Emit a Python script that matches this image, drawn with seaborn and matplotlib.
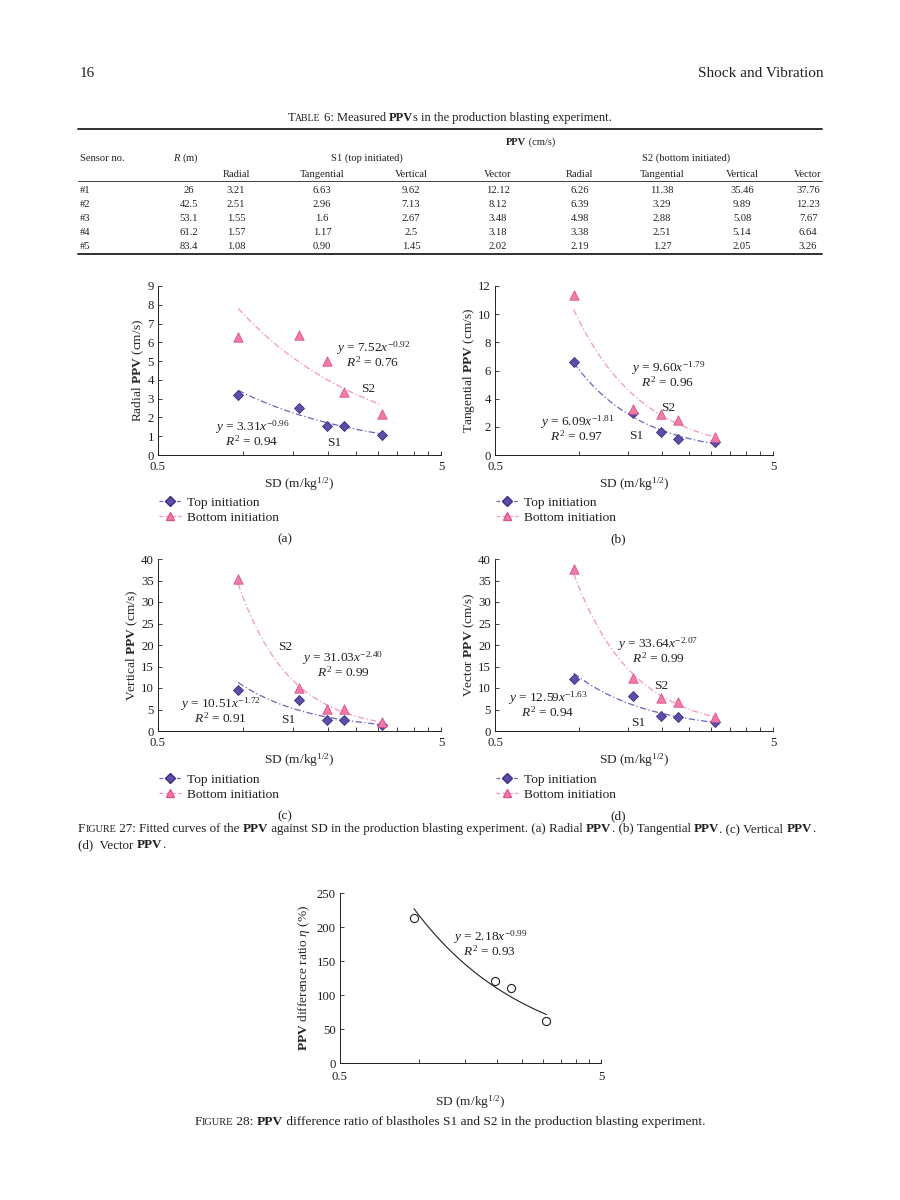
import numpy as np
import pandas as pd
import matplotlib
matplotlib.use("Agg")
import matplotlib.pyplot as plt
import seaborn as sns
from matplotlib.lines import Line2D

# ---- data read from the page ----
sensors = ["#1", "#2", "#3", "#4", "#5"]
distance_r = ["26", "42.5", "53.1", "61.2", "83.4"]
sd = [0.96, 1.57, 1.97, 2.27, 3.09]

s1_radial = [3.21, 2.51, 1.55, 1.57, 1.08]
s1_tangential = [6.63, 2.96, 1.6, 1.17, 0.90]
s1_vertical = [9.62, 7.13, 2.67, 2.5, 1.45]
s1_vector = [12.12, 8.12, 3.48, 3.18, 2.02]
s2_radial = [6.26, 6.39, 4.98, 3.38, 2.19]
s2_tangential = [11.38, 3.29, 2.88, 2.51, 1.27]
s2_vertical = [35.46, 9.89, 5.08, 5.14, 2.05]
s2_vector = [37.76, 12.23, 7.67, 6.64, 3.26]

# table text as printed (keeps trailing zeros)
table_cols = [
    ["3.21", "2.51", "1.55", "1.57", "1.08"],
    ["6.63", "2.96", "1.6", "1.17", "0.90"],
    ["9.62", "7.13", "2.67", "2.5", "1.45"],
    ["12.12", "8.12", "3.48", "3.18", "2.02"],
    ["6.26", "6.39", "4.98", "3.38", "2.19"],
    ["11.38", "3.29", "2.88", "2.51", "1.27"],
    ["35.46", "9.89", "5.08", "5.14", "2.05"],
    ["37.76", "12.23", "7.67", "6.64", "3.26"],
]
component_names = ["Radial", "Tangential", "Vertical", "Vector"]

# fitted power laws y = a x^b  (S1, S2) per panel
fit_s1 = [(3.31, -0.96, 0.94), (6.09, -1.81, 0.97), (10.51, -1.72, 0.91), (12.59, -1.63, 0.94)]
fit_s2 = [(7.52, -0.92, 0.76), (9.60, -1.79, 0.96), (31.03, -2.40, 0.99), (33.64, -2.07, 0.99)]

eta_sd = [0.96, 1.97, 2.27, 3.09]
eta_pct = [213, 121, 110, 62]
eta_fit = (2.18, -0.99, 0.93)

W, H = 900, 1200

sns.set_style("ticks")
plt.rcParams["font.family"] = ["Liberation Serif", "DejaVu Serif"]
plt.rcParams["mathtext.fontset"] = "custom"
plt.rcParams["mathtext.rm"] = "Liberation Serif"
plt.rcParams["mathtext.it"] = "Liberation Serif:italic"
plt.rcParams["mathtext.bf"] = "Liberation Serif:bold"
plt.rcParams["text.color"] = "#231f20"

fig = plt.figure(figsize=(9, 12), dpi=100)
renderer = fig.canvas.get_renderer()


def ftext(x, y, s, **kw):
    # place text using page pixel coordinates
    return fig.text(x / W, 1 - y / H, s, **kw)


def rich(x, y, pieces, size, ha="left"):
    """pieces: list of (text, weight, scale)"""
    arts = []
    cur = x
    for s, w, f in pieces:
        t = ftext(cur, y, s, fontsize=size * f, fontweight=w, va="baseline")
        cur += t.get_window_extent(renderer).width
        arts.append(t)
    if ha == "center":
        shift = (cur - x) / 2
        for t in arts:
            px, py = t.get_position()
            t.set_position((px - shift / W, py))
    return arts


def small_caps(word):
    return [(word[0], "normal", 1.0), (word[1:].upper(), "normal", 0.78)]


# ---- page header ----
ftext(80, 77, "16", fontsize=11, va="baseline")
ftext(824, 77, "Shock and Vibration", fontsize=11, va="baseline", ha="right")

# ---- table 6 ----
rich(450, 121, small_caps("Table") + [(" 6: Measured ", "normal", 1.0), ("PPV", "bold", 1.0),
     ("s in the production blasting experiment.", "normal", 1.0)], 9, ha="center")
fig.add_artist(Line2D([78 / W, 822 / W], [1 - 129 / H] * 2, color="#231f20", lw=1.3))
fig.add_artist(Line2D([78 / W, 822 / W], [1 - 181 / H] * 2, color="#231f20", lw=0.6))
fig.add_artist(Line2D([78 / W, 822 / W], [1 - 254 / H] * 2, color="#231f20", lw=1.3))
tsize = 7.6
rich(531, 145, [("PPV", "bold", 1.0), (" (cm/s)", "normal", 1.0)], tsize, ha="center")
ftext(80, 161, "Sensor no.", fontsize=tsize, va="baseline")
ftext(186, 161, "$R$ (m)", fontsize=tsize, va="baseline", ha="center")
ftext(367, 161, "S1 (top initiated)", fontsize=tsize, va="baseline", ha="center")
ftext(686, 161, "S2 (bottom initiated)", fontsize=tsize, va="baseline", ha="center")
col_x = [236, 322, 411, 498, 580, 662, 742, 808]
for i, cx in enumerate(col_x):
    ftext(cx, 177, component_names[i % 4], fontsize=tsize, va="baseline", ha="center")
row_y = [193, 207, 221, 235, 249]
for j, ry in enumerate(row_y):
    ftext(80, ry, sensors[j], fontsize=tsize, va="baseline")
    ftext(189, ry, distance_r[j], fontsize=tsize, va="baseline", ha="center")
    for i, cx in enumerate(col_x):
        ftext(cx, ry, table_cols[i][j], fontsize=tsize, va="baseline", ha="center")

# ---- figure 27 ----
c_s1_face, c_s1_edge, c_s1_line = "#5b4fa6", "#3a2f86", "#6a63c0"
c_s2_face, c_s2_edge, c_s2_line = "#f07bab", "#e0528c", "#f596bd"

panels = [
    dict(rect=(158, 286, 441, 455), s1=s1_radial, s2=s2_radial, name="Radial",
         ymax=9, ystep=1, label="(a)",
         eq2=(373, 352), s2lab=(368, 392), eq1=(252, 431), s1lab=(334, 446)),
    dict(rect=(495, 286, 773, 455), s1=s1_tangential, s2=s2_tangential, name="Tangential",
         ymax=12, ystep=2, label="(b)",
         eq2=(668, 372), s2lab=(668, 411), eq1=(577, 426), s1lab=(636, 439)),
    dict(rect=(158, 559, 441, 731), s1=s1_vertical, s2=s2_vertical, name="Vertical",
         ymax=40, ystep=5, label="(c)",
         eq2=(343, 662), s2lab=(285, 650), eq1=(220, 708), s1lab=(288, 723)),
    dict(rect=(495, 559, 773, 731), s1=s1_vector, s2=s2_vector, name="Vector",
         ymax=40, ystep=5, label="(d)",
         eq2=(658, 648), s2lab=(661, 689), eq1=(548, 702), s1lab=(638, 726)),
]

xt = [0.5 * k for k in range(1, 11)]
xtl = ["0.5"] + [""] * 8 + ["5"]
tick_fs = 9.2
lab_fs = 9.6
eq_fs = 9.6


def style_axes(ax, ymax, ystep, xpad=4):
    ax.set_xscale("log")
    ax.set_xlim(0.5, 5)
    ax.set_ylim(0, ymax)
    ax.set_xticks(xt)
    ax.set_xticklabels(xtl)
    ax.minorticks_off()
    ax.set_yticks(np.arange(0, ymax + 0.001, ystep))
    ax.tick_params(direction="in", length=3, width=0.6, labelsize=tick_fs, pad=3, colors="#231f20")
    ax.tick_params(axis="x", pad=xpad)
    for sp in ["top", "right"]:
        ax.spines[sp].set_visible(False)
    for sp in ["left", "bottom"]:
        ax.spines[sp].set_linewidth(0.7)
        ax.spines[sp].set_color("#231f20")
    ax.set_xlabel(r"SD (m/kg$^{1/2}$)", fontsize=lab_fs, labelpad=2)


def add_axes(rect):
    l, t, r, b = rect
    return fig.add_axes([l / W, 1 - b / H, (r - l) / W, (b - t) / H])


for k, p in enumerate(panels):
    ax = add_axes(p["rect"])
    df = pd.DataFrame({"SD": sd, "S1": p["s1"], "S2": p["s2"]})
    xs = np.geomspace(sd[0], sd[-1], 60)
    a1, b1, r1 = fit_s1[k]
    a2, b2, r2 = fit_s2[k]
    curve = pd.DataFrame({"SD": xs, "f1": a1 * xs ** b1, "f2": a2 * xs ** b2})
    sns.lineplot(data=curve, x="SD", y="f1", ax=ax, color=c_s1_line, lw=0.9,
                 linestyle=(0, (5, 2, 1, 2)))
    sns.lineplot(data=curve, x="SD", y="f2", ax=ax, color=c_s2_line, lw=0.9,
                 linestyle=(0, (5, 2, 1, 2)))
    sns.scatterplot(data=df, x="SD", y="S1", ax=ax, marker="D", s=26, color=c_s1_face,
                    edgecolor=c_s1_edge, linewidth=0.6, zorder=3)
    sns.scatterplot(data=df, x="SD", y="S2", ax=ax, marker="^", s=46, color=c_s2_face,
                    edgecolor=c_s2_edge, linewidth=0.6, zorder=3)
    style_axes(ax, p["ymax"], p["ystep"])
    ax.set_ylabel(p["name"] + r" $\mathbf{PPV}$ (cm/s)", fontsize=lab_fs, labelpad=1)

    ex, ey = p["eq2"]
    ftext(ex, ey, r"$y$ = %.2f$x^{%.2f}$" % (a2, b2), fontsize=eq_fs, ha="center", va="baseline")
    ftext(ex, ey + 15, r"$R^2$ = %.2f" % r2, fontsize=eq_fs, ha="center", va="baseline")
    ex, ey = p["eq1"]
    ftext(ex, ey, r"$y$ = %.2f$x^{%.2f}$" % (a1, b1), fontsize=eq_fs, ha="center", va="baseline")
    ftext(ex, ey + 15, r"$R^2$ = %.2f" % r1, fontsize=eq_fs, ha="center", va="baseline")
    ftext(*p["s2lab"], "S2", fontsize=eq_fs, ha="center", va="baseline")
    ftext(*p["s1lab"], "S1", fontsize=eq_fs, ha="center", va="baseline")

    handles = [
        Line2D([], [], color=c_s1_line, lw=0.9, linestyle=(0, (3, 1.5, 1, 1.5)), marker="D",
               markersize=5, markerfacecolor=c_s1_face, markeredgecolor=c_s1_edge),
        Line2D([], [], color=c_s2_line, lw=0.9, linestyle=(0, (3, 2)), marker="^",
               markersize=6, markerfacecolor=c_s2_face, markeredgecolor=c_s2_edge),
    ]
    l, t, r, b = p["rect"]
    ax.legend(handles, ["Top initiation", "Bottom initiation"], loc="upper left",
              bbox_to_anchor=((l - 4) / W, 1 - 491 / H - (0 if k < 2 else 277 / H)),
              bbox_transform=fig.transFigure, frameon=False, fontsize=9.6,
              handlelength=1.6, handletextpad=0.5, labelspacing=0.2, borderaxespad=0)
    lx = 285 if k % 2 == 0 else 618
    ly = 542 if k < 2 else 819
    ftext(lx, ly, p["label"], fontsize=9.6, ha="center", va="baseline")

# caption figure 27
rich(78, 832, small_caps("Figure") + [
    (" 27: Fitted curves of the ", "normal", 1.0), ("PPV", "bold", 1.0),
    (" against SD in the production blasting experiment. (a) Radial ", "normal", 1.0),
    ("PPV", "bold", 1.0), (". (b) Tangential ", "normal", 1.0), ("PPV", "bold", 1.0),
    (". (c) Vertical ", "normal", 1.0), ("PPV", "bold", 1.0), (".", "normal", 1.0)], 9.4)
rich(78, 848, [("(d)  Vector ", "normal", 1.0), ("PPV", "bold", 1.0), (".", "normal", 1.0)], 9.4)

# ---- figure 28 ----
ax = add_axes((340, 893, 601, 1063))
a, b, r2 = eta_fit
xs = np.geomspace(eta_sd[0], eta_sd[-1], 60)
curve = pd.DataFrame({"SD": xs, "eta": a * xs ** b * 100})
sns.lineplot(data=curve, x="SD", y="eta", ax=ax, color="#231f20", lw=0.8)
sns.scatterplot(x=eta_sd, y=eta_pct, ax=ax, marker="o", s=34, facecolor="white",
                edgecolor="#231f20", linewidth=0.8, zorder=3)
style_axes(ax, 250, 50, xpad=6)
ax.xaxis.labelpad = 7
ax.set_ylabel(r"$\mathbf{PPV}$ difference ratio $\eta$ (%)", fontsize=lab_fs, labelpad=3)
ftext(490, 941, r"$y$ = 2.18$x^{-0.99}$", fontsize=eq_fs, ha="center", va="baseline")
ftext(490, 956, r"$R^2$ = 0.93", fontsize=eq_fs, ha="center", va="baseline")

rich(450, 1125, small_caps("Figure") + [(" 28: ", "normal", 1.0), ("PPV", "bold", 1.0),
     (" difference ratio of blastholes S1 and S2 in the production blasting experiment.",
      "normal", 1.0)], 9.6, ha="center")

fig.savefig("out.png", dpi=100, facecolor="white")
